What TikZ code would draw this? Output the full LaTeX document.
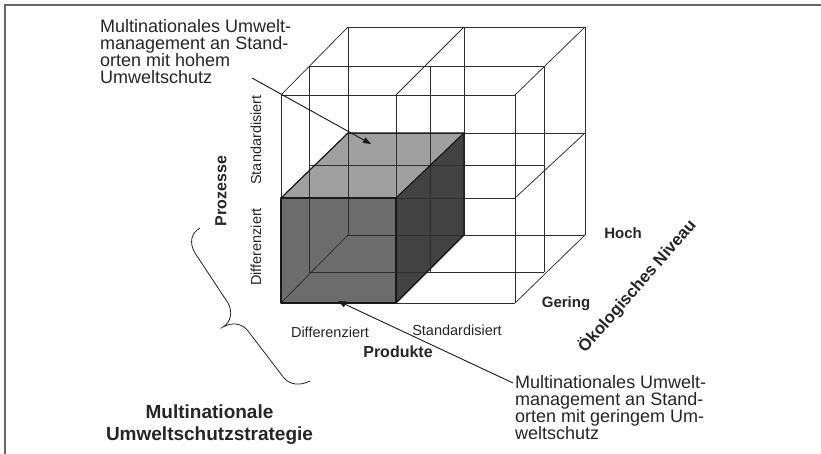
\documentclass[tikz,border=0pt]{standalone}
\usepackage{fontspec}
\setmainfont{Liberation Sans}
\usetikzlibrary{arrows.meta}
\definecolor{shadetop}{HTML}{A0A0A0}
\definecolor{shadefront}{HTML}{6C6C6C}
\definecolor{shaderight}{HTML}{424242}
\begin{document}
\begin{tikzpicture}[x=1pt,y=-1pt,
  grid/.style={line width=0.75pt, draw=black!82},
  edge/.style={line width=1.1pt, draw=black!90, line join=round},
  lbl/.style={inner sep=0pt, font=\fontsize{14.5}{16}\selectfont, text=black!85},
  blbl/.style={inner sep=0pt, font=\fontsize{15}{17}\selectfont\bfseries, text=black!85},
  note/.style={inner sep=0pt, align=left, font=\fontsize{18}{17}\selectfont, text=black!85, anchor=north west},
  pointer/.style={line width=0.9pt, draw=black!90, -{Triangle[length=8pt,width=6pt]}},
]
\useasboundingbox (0,0) rectangle (821,454);
% frame
\draw[line width=1.6pt, black!60] (5,454) -- (5,5) -- (821,5);

% grid coordinates: front, middle, back layer
\foreach \l/\xa/\xb/\xc/\ya/\yb/\yc in {f/281/396/515/95/198/303, m/309/430/544/66/165/272, b/348/464/585/27/133/235} {
  \coordinate (\l-0-0) at (\xa,\ya);
  \coordinate (\l-1-0) at (\xb,\ya);
  \coordinate (\l-2-0) at (\xc,\ya);
  \coordinate (\l-0-1) at (\xa,\yb);
  \coordinate (\l-1-1) at (\xb,\yb);
  \coordinate (\l-2-1) at (\xc,\yb);
  \coordinate (\l-0-2) at (\xa,\yc);
  \coordinate (\l-1-2) at (\xb,\yc);
  \coordinate (\l-2-2) at (\xc,\yc);
}

% shaded block
\fill[shadetop] (f-0-1) -- (f-1-1) -- (b-1-1) -- (b-0-1) -- cycle;
\fill[shadefront] (f-0-1) rectangle (f-1-2);
\fill[shaderight] (f-1-1) -- (b-1-1) -- (b-1-2) -- (f-1-2) -- cycle;

% grid lines
\foreach \l in {f,m,b} {
  \foreach \k in {0,1,2} {
    \draw[grid] (\l-0-\k) -- (\l-2-\k);
    \draw[grid] (\l-\k-0) -- (\l-\k-2);
  }
}
\foreach \i in {0,1,2} {
  \foreach \j in {0,1,2} {
    \draw[grid] (f-\i-\j) -- (b-\i-\j);
  }
}

% shaded block outline
\draw[edge] (f-0-1) rectangle (f-1-2);
\draw[edge] (f-0-1) -- (b-0-1) -- (b-1-1) -- (f-1-1);
\draw[edge] (b-1-1) -- (b-1-2) -- (f-1-2);

% annotations
\node[note] (hi) at (100,19) {Multinationales Umwelt-\\management an Stand-\\orten mit hohem\\Umweltschutz};
\node[note] (lo) at (515,375) {Multinationales Umwelt-\\management an Stand-\\orten mit geringem Um-\\weltschutz};
\coordinate (a1s) at (252,78);
\coordinate (a1e) at (371,144);
\draw[pointer] (a1s) -- (a1e);
\coordinate (a2s) at (513,383);
\coordinate (a2e) at (338,301);
\draw[pointer] (a2s) -- (a2e);

% axis labels
\node[lbl, rotate=90] (pstd) at (256,140) {Standardisiert};
\node[lbl, rotate=90] (pdif) at (256,247) {Differenziert};
\node[blbl, rotate=90, font=\fontsize{16}{18}\selectfont\bfseries] (proz) at (221,191) {Prozesse};
\node[lbl, anchor=base] (hdif) at (330,337) {Differenziert};
\node[lbl, anchor=base] (hstd) at (457,335) {Standardisiert};
\node[blbl, anchor=base, font=\fontsize{16}{18}\selectfont\bfseries] (prod) at (398,357) {Produkte};
\node[blbl, anchor=base] (hoch) at (623,239) {Hoch};
\node[blbl, anchor=base] (ger) at (566,307) {Gering};
\node[blbl, rotate=49, font=\fontsize{16.8}{18}\selectfont\bfseries] (oeko) at (637,286) {Ökologisches Niveau};

% brace
\draw[line width=0.8pt, black!85]
  (200,228) .. controls (191,233) and (189,243) .. (195,253)
  -- (228,303)
  .. controls (233,312) and (231,322) .. (223,327)
  .. controls (232,322) and (242,323) .. (248,331)
  -- (284,378)
  .. controls (290,385) and (300,386) .. (310,381);

% title
\node[inner sep=0pt, align=center, anchor=north, font=\fontsize{19}{22}\selectfont\bfseries, text=black!85] (title) at (209.5,405) {Multinationale\\Umweltschutzstrategie};
\end{tikzpicture}
\end{document}
